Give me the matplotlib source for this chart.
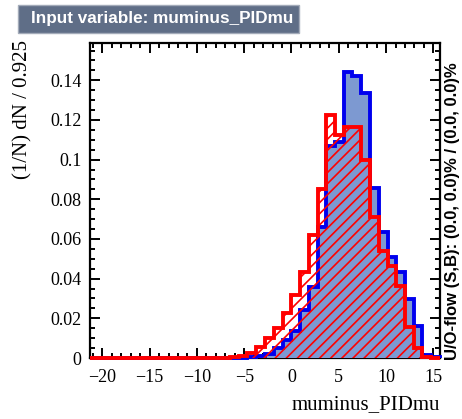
import numpy as np
import matplotlib
matplotlib.use("Agg")
import matplotlib.pyplot as plt
from matplotlib.ticker import MultipleLocator, FuncFormatter
from matplotlib.patches import FancyBboxPatch

# Binning of muminus_PIDmu: 40 bins of width 0.925
x_min = -21.3
bin_width = 0.925
n_bins = 40

# Normalised bin contents, (1/N) dN / 0.925
signal = [0, 0, 0, 0, 0, 0, 0, 0, 0, 0,
          0, 0, 0, 0, 0, 0, 0, 0, 0.0003, 0.001,
          0.002, 0.005, 0.009, 0.0135, 0.024, 0.036, 0.066, 0.107, 0.109, 0.1444,
          0.1423, 0.1335, 0.0856, 0.0634, 0.0508, 0.0432, 0.0297, 0.0162, 0.0015, 0.0003]
background = [0, 0, 0, 0, 0, 0, 0, 0, 0, 0,
              0, 0, 0, 0, 0, 0.0002, 0.0006, 0.0008, 0.0025, 0.0054,
              0.0102, 0.015, 0.0225, 0.032, 0.0435, 0.0618, 0.0854, 0.1225, 0.1124, 0.1166,
              0.1166, 0.0997, 0.071, 0.054, 0.0462, 0.0365, 0.0157, 0.0048, 0.0004, 0]

x_ticks = [-20, -15, -10, -5, 0, 5, 10, 15]
y_ticks = [0, 0.02, 0.04, 0.06, 0.08, 0.1, 0.12, 0.14]

title = "Input variable: muminus_PIDmu"
x_title = "muminus_PIDmu"
y_title = "(1/N) dN / 0.925"
overflow_text = "U/O-flow (S,B): (0.0, 0.0)% / (0.0, 0.0)%"

edges = x_min + bin_width * np.arange(n_bins + 1)

plt.rcParams["hatch.linewidth"] = 1.2
serif = ["Liberation Serif", "DejaVu Serif"]
sans = ["Liberation Sans", "DejaVu Sans"]

W, H = 462, 419
fig = plt.figure(figsize=(W / 100, H / 100), dpi=100)
ax = fig.add_axes([90 / W, 1 - 358 / H, 350 / W, 315 / H])

ax.stairs(signal, edges, fill=True, facecolor="#7d99d1", edgecolor="none", zorder=2)
ax.stairs(signal, edges, baseline=0, fill=False, color="#0000ee", linewidth=2.8,
          zorder=3, clip_on=False)
ax.stairs(background, edges, fill=True, facecolor="none", edgecolor="#ff0000",
          hatch="///", linewidth=0, zorder=4)
ax.stairs(background, edges, baseline=0, fill=False, color="#ff0000", linewidth=2.8,
          zorder=5, clip_on=False)

ax.set_xlim(edges[0], edges[-1])
ax.set_ylim(0, 0.1588)

ax.xaxis.set_major_locator(MultipleLocator(5))
ax.xaxis.set_minor_locator(MultipleLocator(1))
ax.yaxis.set_major_locator(MultipleLocator(0.02))
ax.yaxis.set_minor_locator(MultipleLocator(0.005))
ax.set_xticks(x_ticks)
ax.set_yticks(y_ticks)
ax.xaxis.set_major_formatter(FuncFormatter(lambda v, p: "\u2212%d" % -v if v < 0 else "%d" % v))
ax.yaxis.set_major_formatter(FuncFormatter(lambda v, p: "0" if v == 0 else ("%g" % v)))

ax.tick_params(which="both", direction="in", top=True, right=True, width=1.4,
               labelsize=13)
ax.tick_params(axis="x", which="both", pad=8)
ax.tick_params(axis="y", which="both", pad=6)
ax.tick_params(which="major", length=7)
ax.tick_params(which="minor", length=3.5)
for lab in ax.get_xticklabels() + ax.get_yticklabels():
    lab.set_family(serif)
for s in ax.spines.values():
    s.set_linewidth(1.6)
    s.set_zorder(1.5)

fig.text(440 / W, 1 - 405 / H, x_title, ha="right", va="center",
         fontsize=15, family=serif)
fig.text(23 / W, 1 - 40 / H, y_title, ha="center", va="top", rotation=90,
         fontsize=15, family=serif)

# title banner
box = FancyBboxPatch((18 / W, 1 - 33 / H), 281 / W, 28 / H,
                     boxstyle="square,pad=0", transform=fig.transFigure,
                     facecolor="#5f6e87", edgecolor="#a3abb9", linewidth=1.0)
fig.patches.append(box)
fig.text(31 / W, 1 - 19 / H, title, ha="left", va="center", color="white",
         fontsize=12.3, fontweight="bold", family=sans)

fig.text(452 / W, 1 - 360 / H, overflow_text, ha="center", va="bottom", rotation=90,
         fontsize=12, fontweight="bold", family=sans, color="black")

fig.savefig("out.png", dpi=100)
